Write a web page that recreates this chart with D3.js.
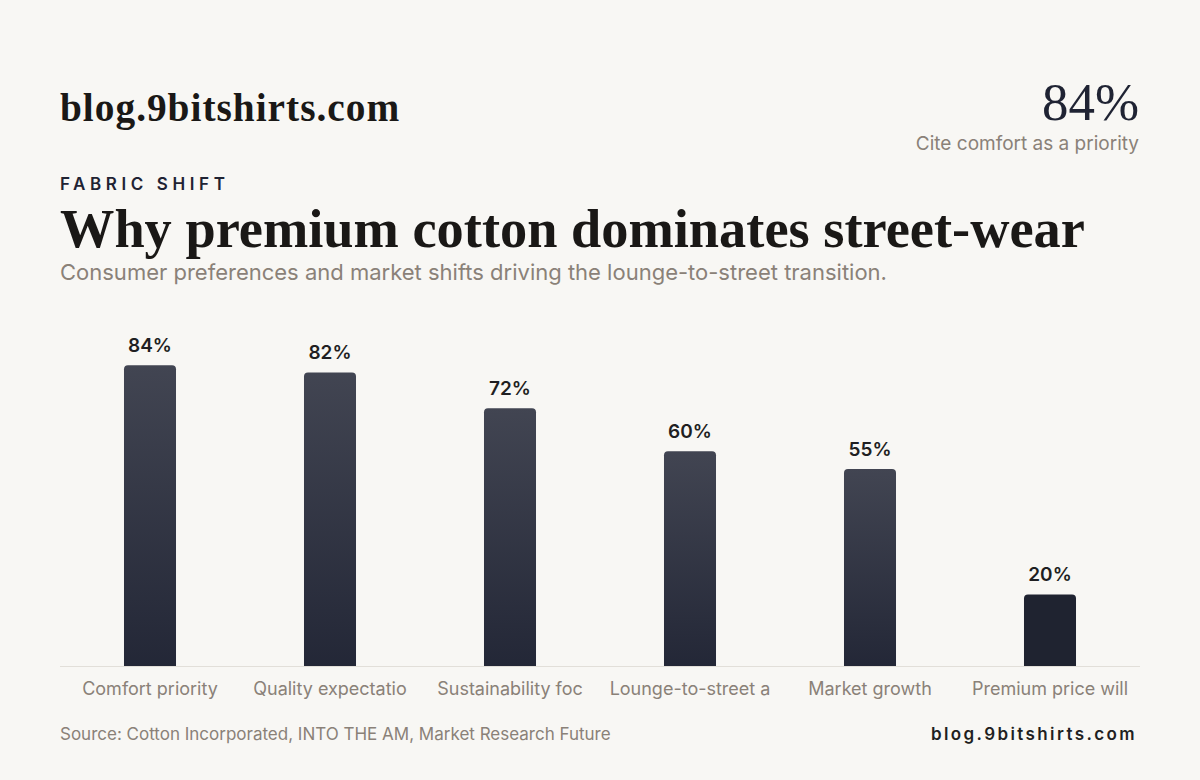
<!DOCTYPE html>
<html><head><meta charset="utf-8">
<script src="https://cdn.jsdelivr.net/npm/d3@7"></script>
<style>
html,body{margin:0;padding:0;background:#f8f7f4;}
svg{display:block;}
</style></head>
<body>
<svg id="chart" width="1200" height="780"></svg>
<script>
const categories = ["Comfort priority","Quality expectatio","Sustainability foc","Lounge-to-street a","Market growth","Premium price will"];
const values = [84, 82, 72, 60, 55, 20];
const valueLabels = ["84%","82%","72%","60%","55%","20%"];
const yDomain = [0, 100];

const W = 1200, H = 780;
const svg = d3.select("#chart");
svg.append("rect").attr("width", W).attr("height", H).attr("fill", "#f8f7f4");

const serif = "'Liberation Serif', 'DejaVu Serif', serif";
const sans = "Inter, 'Noto Sans', sans-serif";

function fitText(sel, targetW) {
  const fs = parseFloat(sel.attr("font-size"));
  const w = sel.node().getComputedTextLength();
  sel.attr("font-size", (fs * targetW / w).toFixed(2));
}

// header
const logo = svg.append("text").attr("x", 60).attr("y", 121)
  .attr("font-family", serif).attr("font-weight", 700).attr("font-size", 36)
  .attr("letter-spacing", "1px")
  .attr("fill", "#1a1816").text("blog.9bitshirts.com");
fitText(logo, 342);

const big = svg.append("text").attr("x", 1139).attr("y", 120).attr("text-anchor", "end")
  .attr("font-family", serif).attr("font-weight", 400).attr("font-size", 56)
  .attr("fill", "#1f2333").text("84%");
fitText(big, 97);

svg.append("text").attr("x", 1139).attr("y", 150).attr("text-anchor", "end")
  .attr("font-family", sans).attr("font-size", 19).attr("fill", "#8a8178")
  .text("Cite comfort as a priority");

svg.append("text").attr("x", 60).attr("y", 190)
  .attr("font-family", sans).attr("font-weight", 600).attr("font-size", 17)
  .attr("letter-spacing", "4.6px").attr("fill", "#1f2333").text("FABRIC SHIFT");

const title = svg.append("text").attr("x", 60).attr("y", 247)
  .attr("font-family", serif).attr("font-weight", 700).attr("font-size", 50)
  .attr("fill", "#1a1816").text("Why premium cotton dominates street-wear");
fitText(title, 1025);

svg.append("text").attr("x", 60).attr("y", 280)
  .attr("font-family", sans).attr("font-size", 22).attr("fill", "#8a8178")
  .text("Consumer preferences and market shifts driving the lounge-to-street transition.");

// chart
const x = d3.scaleBand().domain(categories).range([60, 1140]).padding(0.711).paddingOuter(0.3555);
const y = d3.scaleLinear().domain(yDomain).range([666, 308]);

const defs = svg.append("defs");
const grad = defs.append("linearGradient").attr("id", "barGrad")
  .attr("x1", 0).attr("y1", 0).attr("x2", 0).attr("y2", 1);
grad.append("stop").attr("offset", "0%").attr("stop-color", "#1f2333").attr("stop-opacity", 0.84);
grad.append("stop").attr("offset", "100%").attr("stop-color", "#1f2333").attr("stop-opacity", 0.98);

const data = categories.map((c, i) => ({c, v: values[i], l: valueLabels[i]}));
const minV = d3.min(values);
const r = 4;
function barPath(d) {
  const x0 = x(d.c), w = x.bandwidth(), y0 = y(d.v), y1 = y(0);
  return `M${x0},${y1}V${y0 + r}Q${x0},${y0} ${x0 + r},${y0}H${x0 + w - r}Q${x0 + w},${y0} ${x0 + w},${y0 + r}V${y1}Z`;
}
svg.append("g").selectAll("path").data(data).join("path")
  .attr("d", barPath)
  .attr("fill", d => d.v === minV ? "#1f2330" : "url(#barGrad)");

svg.append("g").selectAll("text").data(data).join("text")
  .attr("x", d => x(d.c) + x.bandwidth() / 2).attr("y", d => y(d.v) - 13)
  .attr("text-anchor", "middle").attr("font-family", sans).attr("font-weight", 600)
  .attr("font-size", 19).attr("fill", "#1f1f22").text(d => d.l);

// axis
const xAxis = d3.axisBottom(x).tickSize(0).tickPadding(16);
const ax = svg.append("g").attr("transform", "translate(0,666.5)").call(xAxis);
ax.select(".domain").attr("stroke", "#e2dfd9").attr("stroke-width", 1.2).attr("d", "M60,0H1140");
ax.selectAll(".tick text").attr("font-family", sans).attr("font-size", 18)
  .attr("fill", "#8a8178").attr("dy", "0.71em");
ax.selectAll(".tick text").attr("y", 16);

// footer
svg.append("text").attr("x", 60).attr("y", 740)
  .attr("font-family", sans).attr("font-size", 17).attr("fill", "#8a8178")
  .text("Source: Cotton Incorporated, INTO THE AM, Market Research Future");
svg.append("text").attr("x", 1137).attr("y", 740).attr("text-anchor", "end")
  .attr("font-family", sans).attr("font-weight", 600).attr("font-size", 17)
  .attr("letter-spacing", "2.4px").attr("fill", "#1f1f22").text("blog.9bitshirts.com");
</script>
</body></html>
